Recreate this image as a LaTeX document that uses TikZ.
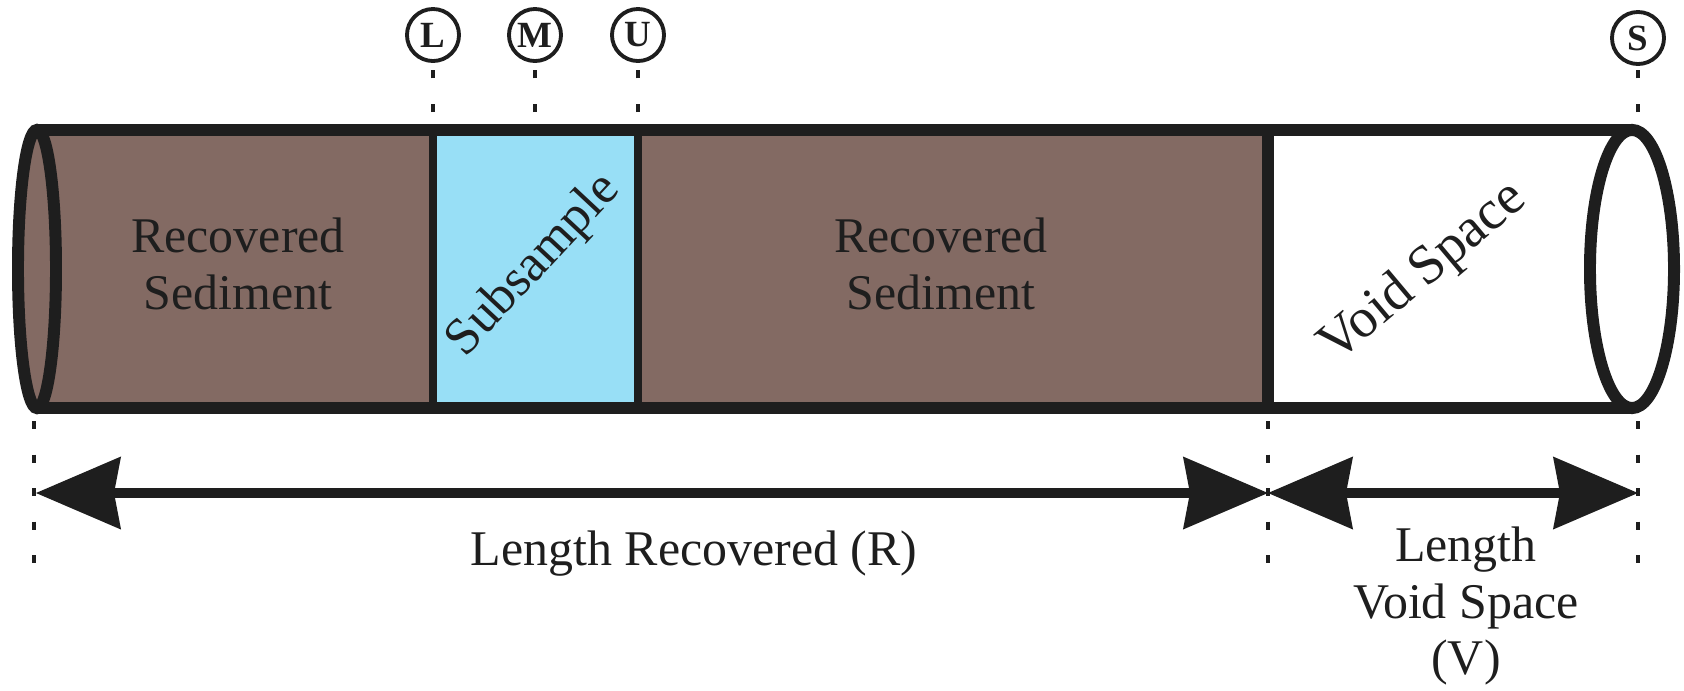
\documentclass[tikz,border=0pt]{standalone}
\usepackage{fontspec}
\setmainfont{Liberation Serif}
\usetikzlibrary{arrows.meta,positioning,calc}
\definecolor{sed}{RGB}{131,106,99}
\definecolor{subblue}{RGB}{152,223,246}
\definecolor{ink}{RGB}{30,30,30}
\lineskiplimit=-20pt

\begin{document}
\begin{tikzpicture}[x=0.01cm,y=-0.01cm,
 every node/.style={font=\fontsize{14.2}{16}\selectfont,text=ink},
 lbl/.style={align=center,inner sep=0pt},
 tag/.style={draw=ink,circle,line width=1.1pt,minimum size=0.52cm,inner sep=0pt,font=\bfseries\fontsize{10.5}{11}\selectfont},
 guide/.style={draw=ink,line width=0.9pt,dash pattern=on 0.08cm off 0.255cm},
 wall/.style={draw=ink,line width=3.4pt},
 len/.style={{Stealth[length=0.85cm,width=0.73cm,inset=0.07cm,line width=0pt]}-{Stealth[length=0.85cm,width=0.73cm,inset=0.07cm,line width=0pt]},draw=ink,line width=3pt}]
\useasboundingbox (0,0) rectangle (1684,690);
% core fill
\fill[sed] (36,130) rectangle (1268,408);
\fill[sed] (37,269) ellipse [x radius=0.19cm,y radius=1.39cm];
\fill[subblue] (433,130) rectangle (638,408);
% walls
\draw[ink,line width=2pt] (433,130)--(433,408) (638,130)--(638,408);
\draw[wall] (1268,130)--(1268,408);
\draw[wall] (37,130)--(1632,130) (37,408)--(1632,408);
\draw[wall] (37,269) ellipse [x radius=0.19cm,y radius=1.39cm];
\draw[wall] (1632,269) ellipse [x radius=0.42cm,y radius=1.39cm];
% depth tags
\node[tag] (tL) at (433,35) {L};
\node[tag] (tM) at (535,35) {M};
\node[tag] (tU) at (638,35) {U};
\node[tag] (tS) at (1638,38) {S};
\foreach \n/\px in {L/433,M/535,U/638,S/1638}{
  \coordinate (b\n) at (\px,112);
  \draw[guide] (b\n)--(t\n);}
% length marks
\foreach \g/\px in {1/34,2/1268,3/1638}{
  \coordinate (g\g) at (\px,421);
  \coordinate (h\g) at (\px,566);
  \draw[guide] (g\g)--(h\g);}
\coordinate (r0) at (36,493);
\coordinate (r1) at (1268,493);
\coordinate (v1) at (1638,493);
\draw[len] (r0)--(r1);
\draw[len] (r1)--(v1);
% labels
\node[lbl] (rs1) at (238,264) {Recovered\\Sediment};
\node[lbl] (rs2) at (941,264) {Recovered\\Sediment};
\node[lbl,rotate=47,font=\fontsize{14.8}{16}\selectfont] (sub) at (534,266) {Subsample};
\node[lbl,rotate=40,font=\fontsize{15.8}{17}\selectfont] (void) at (1424,273) {Void Space};
\node[lbl,anchor=base] (lr) at (694,565) {Length Recovered (R)};
\node[lbl] (lv) at (1466,606) {Length\\Void Space\\(V)};
\end{tikzpicture}
\end{document}
